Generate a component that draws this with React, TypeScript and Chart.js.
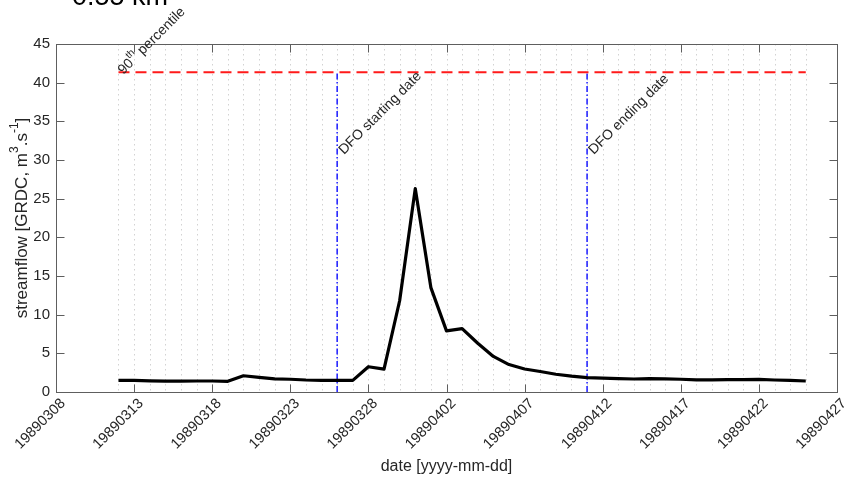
import React, { useEffect, useRef } from "react";
import { Chart, registerables } from "chart.js";

Chart.register(...registerables);

// ---------- data ----------
const dates = [
  "19890312", "19890313", "19890314", "19890315", "19890316", "19890317", "19890318", "19890319",
  "19890320", "19890321", "19890322", "19890323", "19890324", "19890325", "19890326", "19890327",
  "19890328", "19890329", "19890330", "19890331", "19890401", "19890402", "19890403", "19890404",
  "19890405", "19890406", "19890407", "19890408", "19890409", "19890410", "19890411", "19890412",
  "19890413", "19890414", "19890415", "19890416", "19890417", "19890418", "19890419", "19890420",
  "19890421", "19890422", "19890423", "19890424", "19890425",
];
const streamflow = [
  1.5, 1.5, 1.45, 1.4, 1.4, 1.42, 1.42, 1.38,
  2.1, 1.9, 1.7, 1.65, 1.55, 1.5, 1.5, 1.5,
  3.27, 2.95, 11.8, 26.3, 13.5, 7.9, 8.2, 6.3,
  4.6, 3.55, 2.97, 2.65, 2.3, 2.05, 1.87, 1.8,
  1.72, 1.68, 1.72, 1.7, 1.65, 1.57, 1.57, 1.6,
  1.6, 1.63, 1.55, 1.5, 1.42,
];
const xTickLabels = [
  "19890308", "19890313", "19890318", "19890323", "19890328", "19890402",
  "19890407", "19890412", "19890417", "19890422", "19890427",
];
const percentile90 = 41.35;
const dfoStartDate = "19890326";
const dfoEndDate = "19890411";
const yMin = 0;
const yMax = 45;
const yStep = 5;
const titleText = "0.55 km";
const xTitle = "date [yyyy-mm-dd]";

// ---------- helpers ----------
const FONT = "'Liberation Sans', Arial, Helvetica, sans-serif";
const TEXT = "#262626";
const AXIS = "#5e5e5e";

function dayIndex(s: string): number {
  const t = (v: string) =>
    Date.UTC(+v.slice(0, 4), +v.slice(4, 6) - 1, +v.slice(6, 8));
  return Math.round((t(s) - t(xTickLabels[0])) / 86400000);
}
const xMaxDay = dayIndex(xTickLabels[xTickLabels.length - 1]);

type Seg = { t: string; sup?: boolean };

function drawRich(
  ctx: CanvasRenderingContext2D,
  segs: Seg[],
  x: number,
  y: number,
  angle: number,
  size: number,
  align: "left" | "center"
) {
  const supSize = Math.round(size * 0.7);
  const widths = segs.map((s) => {
    ctx.font = `${s.sup ? supSize : size}px ${FONT}`;
    return ctx.measureText(s.t).width;
  });
  const total = widths.reduce((a, b) => a + b, 0);
  ctx.save();
  ctx.translate(x, y);
  ctx.rotate(angle);
  ctx.fillStyle = TEXT;
  ctx.textBaseline = "middle";
  ctx.textAlign = "left";
  let cx = align === "center" ? -total / 2 : 0;
  segs.forEach((s, i) => {
    ctx.font = `${s.sup ? supSize : size}px ${FONT}`;
    ctx.fillText(s.t, cx, s.sup ? -size * 0.42 : 0);
    cx += widths[i];
  });
  ctx.restore();
}

const decorPlugin = {
  id: "decor",
  beforeDatasetsDraw(chart: any) {
    const { ctx, chartArea: a, scales } = chart;
    const xs = scales.x;
    ctx.save();
    ctx.strokeStyle = "#d2d2d2";
    ctx.lineWidth = 1;
    ctx.setLineDash([1.5, 3.5]);
    dates.forEach((d) => {
      const px = Math.round(xs.getPixelForValue(dayIndex(d))) + 0.5;
      ctx.beginPath();
      ctx.moveTo(px, a.top);
      ctx.lineTo(px, a.bottom);
      ctx.stroke();
    });
    ctx.restore();
  },
  afterDraw(chart: any) {
    const { ctx, chartArea: a, scales } = chart;
    const xs = scales.x;
    const ys = scales.y;
    ctx.save();
    // box
    ctx.strokeStyle = AXIS;
    ctx.lineWidth = 1;
    ctx.setLineDash([]);
    const L = Math.round(a.left) + 0.5;
    const R = Math.round(a.right) + 0.5;
    const T = Math.round(a.top) + 0.5;
    const B = Math.round(a.bottom) + 0.5;
    ctx.strokeRect(L, T, R - L, B - T);
    const tl = 8;
    // x ticks (bottom + top)
    xTickLabels.forEach((lab) => {
      const px = Math.round(xs.getPixelForValue(dayIndex(lab))) + 0.5;
      ctx.beginPath();
      ctx.moveTo(px, B);
      ctx.lineTo(px, B - tl);
      ctx.moveTo(px, T);
      ctx.lineTo(px, T + tl);
      ctx.stroke();
    });
    // y ticks (left + right)
    for (let v = yMin; v <= yMax; v += yStep) {
      const py = Math.round(ys.getPixelForValue(v)) + 0.5;
      ctx.beginPath();
      ctx.moveTo(L, py);
      ctx.lineTo(L + tl, py);
      ctx.moveTo(R, py);
      ctx.lineTo(R - tl, py);
      ctx.stroke();
    }
    ctx.restore();

    // axis titles
    ctx.save();
    ctx.fillStyle = TEXT;
    ctx.font = `16px ${FONT}`;
    ctx.textAlign = "center";
    ctx.textBaseline = "middle";
    ctx.fillText(xTitle, (a.left + a.right) / 2, 467);
    ctx.restore();

    drawRich(
      ctx,
      [
        { t: "streamflow [GRDC, m" },
        { t: "3", sup: true },
        { t: ".s" },
        { t: "-1", sup: true },
        { t: "]" },
      ],
      22,
      (a.top + a.bottom) / 2,
      -Math.PI / 2,
      17,
      "center"
    );

    // annotations
    const ang = -Math.PI / 4;
    drawRich(
      ctx,
      [{ t: "90" }, { t: "th", sup: true }, { t: " percentile" }],
      xs.getPixelForValue(dayIndex(dates[0])) + 2,
      ys.getPixelForValue(percentile90),
      ang,
      14,
      "left"
    );
    drawRich(
      ctx,
      [{ t: "DFO starting date" }],
      xs.getPixelForValue(dayIndex(dfoStartDate)) + 4,
      ys.getPixelForValue(31),
      ang,
      14,
      "left"
    );
    drawRich(
      ctx,
      [{ t: "DFO ending date" }],
      xs.getPixelForValue(dayIndex(dfoEndDate)) + 4,
      ys.getPixelForValue(31),
      ang,
      14,
      "left"
    );

    // clipped title at top
    ctx.save();
    ctx.fillStyle = "#000000";
    ctx.font = `27px ${FONT}`;
    ctx.textAlign = "left";
    ctx.textBaseline = "alphabetic";
    ctx.fillText(titleText, 72, 5);
    ctx.restore();
  },
};

export default function App() {
  const ref = useRef<HTMLCanvasElement | null>(null);

  useEffect(() => {
    document.body.style.margin = "0";
    const canvas = ref.current;
    if (!canvas) return;
    const first = dayIndex(dates[0]);
    const last = dayIndex(dates[dates.length - 1]);
    const ds = dayIndex(dfoStartDate);
    const de = dayIndex(dfoEndDate);
    const chart = new Chart(canvas, {
      type: "line",
      data: {
        datasets: [
          {
            label: "streamflow",
            data: dates.map((d, i) => ({ x: dayIndex(d), y: streamflow[i] })),
            borderColor: "#000000",
            borderWidth: 3.2,
            pointRadius: 0,
            tension: 0,
            borderJoinStyle: "round",
            order: 0,
          },
          {
            label: "90th percentile",
            data: [
              { x: first, y: percentile90 },
              { x: last, y: percentile90 },
            ],
            borderColor: "#ff1a1a",
            borderWidth: 2,
            borderDash: [11, 6],
            pointRadius: 0,
            order: 1,
          },
          {
            label: "DFO start",
            data: [
              { x: ds, y: yMin },
              { x: ds, y: percentile90 },
            ],
            borderColor: "#1a1aff",
            borderWidth: 1.5,
            borderDash: [6, 2.5, 1.5, 2.5],
            pointRadius: 0,
            order: 2,
          },
          {
            label: "DFO end",
            data: [
              { x: de, y: yMin },
              { x: de, y: percentile90 },
            ],
            borderColor: "#1a1aff",
            borderWidth: 1.5,
            borderDash: [6, 2.5, 1.5, 2.5],
            pointRadius: 0,
            order: 3,
          },
        ],
      },
      options: {
        responsive: false,
        animation: false,
        devicePixelRatio: 1,
        layout: { padding: { top: 44, right: 11, left: 0, bottom: 0 } },
        plugins: {
          legend: { display: false },
          tooltip: { enabled: false },
          title: { display: false },
        },
        scales: {
          x: {
            type: "linear",
            min: 0,
            max: xMaxDay,
            grid: { display: false, drawTicks: false, tickLength: 0 },
            border: { display: false },
            afterFit: (s: any) => {
              s.height = 93;
              s.paddingLeft = 0;
              s.paddingRight = 0;
            },
            afterBuildTicks: (s: any) => {
              s.ticks = xTickLabels.map((l) => ({ value: dayIndex(l) }));
            },
            ticks: {
              autoSkip: false,
              maxRotation: 45,
              minRotation: 45,
              padding: 3,
              labelOffset: 7,
              color: TEXT,
              font: { size: 14.5, family: FONT },
              callback: (v: any) => {
                const i = xTickLabels.findIndex((l) => dayIndex(l) === v);
                return i >= 0 ? xTickLabels[i] : "";
              },
            },
          },
          y: {
            type: "linear",
            min: yMin,
            max: yMax,
            grid: { display: false, drawTicks: false, tickLength: 0 },
            border: { display: false },
            afterFit: (s: any) => {
              s.width = 56;
              s.paddingTop = 0;
              s.paddingBottom = 0;
            },
            ticks: {
              stepSize: yStep,
              padding: 6,
              color: TEXT,
              font: { size: 15, family: FONT },
            },
          },
        },
      },
      plugins: [decorPlugin],
    } as any);
    return () => chart.destroy();
  }, []);

  return (
    <div style={{ position: "absolute", left: 0, top: 0, width: 848, height: 485, background: "#ffffff" }}>
      <canvas ref={ref} width={848} height={485} />
    </div>
  );
}
